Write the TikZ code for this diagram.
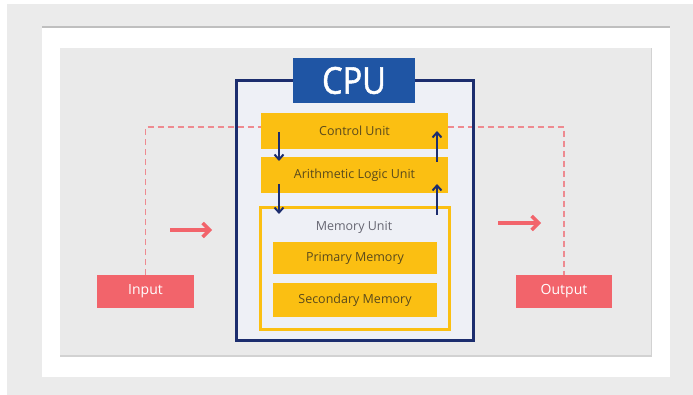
\documentclass[tikz,border=0pt]{standalone}
\usepackage{fontspec}
\setmainfont{Open Sans}
\newfontfamily\cpufont[FakeBold=1.5]{Open Sans}
\usetikzlibrary{arrows.meta}
\definecolor{pagegrey}{HTML}{EBEBEB}
\definecolor{panelgrey}{HTML}{EAEAEA}
\definecolor{cpunavy}{HTML}{1C2D6E}
\definecolor{cpublue}{HTML}{1F55A4}
\definecolor{cpufill}{HTML}{EEF0F6}
\definecolor{unitgold}{HTML}{FBBF12}
\definecolor{unittext}{HTML}{5A4A1C}
\definecolor{memgrey}{HTML}{666672}
\definecolor{iored}{HTML}{F2646B}
\definecolor{pathred}{HTML}{EE8A90}
\tikzset{
  x=1pt, y=-1pt,
  unitbar/.style={fill=unitgold, draw=none, inner sep=0pt, text=unittext,
    font=\fontsize{12.5}{14}\selectfont},
  iobox/.style={fill=iored, draw=none, inner sep=0pt, text=white,
    font=\fontsize{14}{16}\selectfont},
  flowdown/.style={cpunavy, line width=2pt, -{Straight Barb[length=5pt,width=9pt,line width=2pt]}},
  flowred/.style={iored, line width=3.5pt, -{Straight Barb[length=7pt,width=14pt,line width=3.5pt]}},
  signal/.style={pathred, line width=1.8pt, dash pattern=on 6pt off 4pt},
}
\begin{document}
\begin{tikzpicture}
% page and framed panel
\fill[white] (0,0) rectangle (693,395);
\fill[pagegrey] (7,4) rectangle (693,395);
\fill[white] (42,27) rectangle (670,377);
\fill[gray!50] (42,26) rectangle (670,28.5);
\fill[gray!35] (60,48) rectangle (652,357);
\fill[panelgrey] (60,48) rectangle (651,355);
\useasboundingbox (0,0) rectangle (693,395);

% CPU enclosure
\coordinate (cpuNW) at (236,81);
\coordinate (cpuSE) at (473,340);
\fill[cpufill] (cpuNW) rectangle (cpuSE);

% input / output boxes
\node[iobox, minimum width=97pt, minimum height=33pt] (in) at (145.5,291.5) {Input};
\node[iobox, minimum width=96pt, minimum height=33pt] (out) at (564,291.5) {Output};

% dashed signal path from input round to output
\coordinate (sigL) at (in.north |- 0,127);
\coordinate (sigR) at (out.north |- 0,127);
\draw[signal] (in.north) -- (sigL) -- (sigR) -- (out.north);

\draw[cpunavy, line width=3pt] (cpuNW) rectangle (cpuSE);

% CPU title tab
\node[fill=cpublue, inner sep=0pt, minimum width=122pt, minimum height=45pt, text=white,
  font=\cpufont\fontsize{37}{40}\selectfont] (cpu) at (354,80.5) {\scalebox{0.88}[1]{CPU}};

% units
\node[unitbar, minimum width=187pt, minimum height=36pt] (cu) at (354.5,131) {Control Unit};
\node[unitbar, minimum width=187pt, minimum height=36pt] (alu) at (354.5,175) {Arithmetic Logic Unit};

% memory unit
\node[draw=unitgold, line width=3pt, fill=cpufill, minimum width=189pt, minimum height=121pt,
  inner sep=0pt] (mem) at (354.5,268.5) {};
\node[text=memgrey, font=\fontsize{12.5}{14}\selectfont] (memlbl) at (354,227) {Memory Unit};
\node[unitbar, minimum width=164pt, minimum height=32pt] (pm) at (355,258) {Primary Memory};
\node[unitbar, minimum width=164pt, minimum height=34pt] (sm) at (355,300) {Secondary Memory};

% data flow between units
\coordinate (dA1) at (279,132);
\coordinate (dA2) at (279,161);
\coordinate (dB1) at (279,184);
\coordinate (dB2) at (279,214);
\coordinate (uA1) at (437,162);
\coordinate (uA2) at (437,131);
\coordinate (uB1) at (437,215);
\coordinate (uB2) at (437,184);
\draw[flowdown] (dA1) -- (dA2);
\draw[flowdown] (dB1) -- (dB2);
\draw[flowdown] (uA1) -- (uA2);
\draw[flowdown] (uB1) -- (uB2);

% red direction arrows
\coordinate (ra1) at (170,230);
\coordinate (ra2) at (212,230);
\coordinate (rb1) at (498,223);
\coordinate (rb2) at (541,223);
\draw[flowred] (ra1) -- (ra2);
\draw[flowred] (rb1) -- (rb2);
\end{tikzpicture}
\end{document}
